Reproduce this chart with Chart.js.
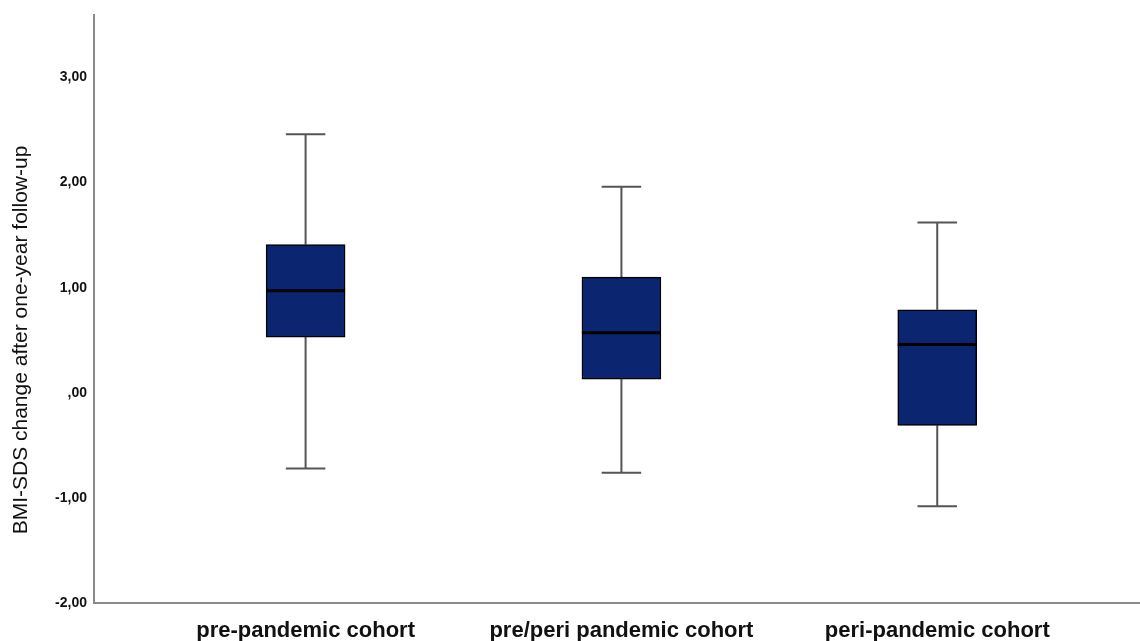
<!DOCTYPE html>
<html>
<head>
<meta charset="utf-8">
<script src="https://cdn.jsdelivr.net/npm/chart.js@4/dist/chart.umd.min.js"></script>
<style>
  html, body { margin: 0; padding: 0; background: #fff; }
  #wrap { width: 1140px; height: 641px; }
</style>
</head>
<body>
<div id="wrap"><canvas id="myChart"></canvas></div>
<script>
// values
var cohorts = ["pre-pandemic cohort", "pre/peri pandemic cohort", "peri-pandemic cohort"];
var whiskerLow = [-0.72, -0.76, -1.08];
var q1 = [0.53, 0.13, -0.31];
var median = [0.97, 0.57, 0.46];
var q3 = [1.41, 1.10, 0.79];
var whiskerHigh = [2.46, 1.96, 1.62];
var yTicks = [-2, -1, 0, 1, 2, 3];
var yTitle = "BMI-SDS change after one-year follow-up";

function fmt(v)
{
  var s = Math.abs(v).toFixed(2).replace(".", ",");
  if (s.indexOf("0,") == 0) s = s.substring(1);
  return (v < 0 ? "-" : "") + s;
}

// whiskers behind the boxes, medians on top, rotated y title
var boxPlot = {
  id: "boxPlot",
  beforeDatasetsDraw: function(chart) {
    var ctx = chart.ctx;
    var x = chart.scales.x, y = chart.scales.y;
    var bars = chart.getDatasetMeta(0).data;
    ctx.save();
    ctx.strokeStyle = "#555555";
    ctx.lineWidth = 2;
    for (var i = 0; i < cohorts.length; i++) {
      var cx = x.getPixelForValue(i);
      var half = bars[i].width / 4;
      ctx.beginPath();
      ctx.moveTo(cx, y.getPixelForValue(whiskerHigh[i]));
      ctx.lineTo(cx, y.getPixelForValue(q3[i]));
      ctx.moveTo(cx, y.getPixelForValue(q1[i]));
      ctx.lineTo(cx, y.getPixelForValue(whiskerLow[i]));
      ctx.moveTo(cx - half, y.getPixelForValue(whiskerHigh[i]));
      ctx.lineTo(cx + half, y.getPixelForValue(whiskerHigh[i]));
      ctx.moveTo(cx - half, y.getPixelForValue(whiskerLow[i]));
      ctx.lineTo(cx + half, y.getPixelForValue(whiskerLow[i]));
      ctx.stroke();
    }
    ctx.restore();
  },
  afterDatasetsDraw: function(chart) {
    var ctx = chart.ctx;
    var x = chart.scales.x, y = chart.scales.y;
    var bars = chart.getDatasetMeta(0).data;
    ctx.save();
    ctx.strokeStyle = "#000000";
    ctx.lineWidth = 3;
    for (var i = 0; i < cohorts.length; i++) {
      var cx = x.getPixelForValue(i);
      var half = bars[i].width / 2;
      var my = y.getPixelForValue(median[i]);
      ctx.beginPath();
      ctx.moveTo(cx - half, my);
      ctx.lineTo(cx + half, my);
      ctx.stroke();
    }
    ctx.restore();
  },
  afterDraw: function(chart) {
    var ctx = chart.ctx;
    ctx.save();
    ctx.translate(21.5, 340);
    ctx.rotate(-Math.PI / 2);
    ctx.font = "21px 'Liberation Sans', Arial, sans-serif";
    ctx.fillStyle = "#111111";
    ctx.textAlign = "center";
    ctx.textBaseline = "middle";
    ctx.fillText(yTitle, 0, 0);
    ctx.restore();
  }
};

new Chart("myChart", {
  type: "bar",
  data: {
    datasets: [{
      data: cohorts.map(function(c, i) { return { x: i, y: [q1[i], q3[i]] }; }),
      backgroundColor: "#0b2570",
      borderColor: "#000000",
      borderWidth: 1.5,
      borderSkipped: false,
      barThickness: 79
    }]
  },
  options: {
    responsive: true,
    maintainAspectRatio: false,
    animation: false,
    layout: { padding: { top: 12, left: 0, right: 0, bottom: 0 } },
    plugins: {
      legend: { display: false },
      tooltip: { enabled: false }
    },
    scales: {
      x: {
        type: "linear",
        offset: false,
        min: -0.670,
        max: 2.642,
        grid: { display: false },
        border: { display: true, color: "#8a8a8a", width: 2 },
        afterBuildTicks: function(scale) {
          scale.ticks = cohorts.map(function(c, i) { return { value: i }; });
        },
        afterFit: function(scale) { scale.height = 38; },
        ticks: {
          padding: 7,
          color: "#111111",
          font: { family: "'Liberation Sans', Arial, sans-serif", size: 22, weight: "bold" },
          callback: function(v) { return cohorts[v]; }
        }
      },
      y: {
        min: -2,
        max: 3.59,
        grid: { display: false, drawTicks: false },
        border: { display: true, color: "#8a8a8a", width: 2 },
        afterBuildTicks: function(scale) {
          scale.ticks = yTicks.map(function(v) { return { value: v }; });
        },
        afterFit: function(scale) { scale.width = 94; },
        ticks: {
          padding: 7,
          color: "#111111",
          font: { family: "'Liberation Sans', Arial, sans-serif", size: 14, weight: "bold" },
          callback: function(v) { return fmt(v); }
        }
      }
    }
  },
  plugins: [boxPlot]
});
</script>
</body>
</html>
